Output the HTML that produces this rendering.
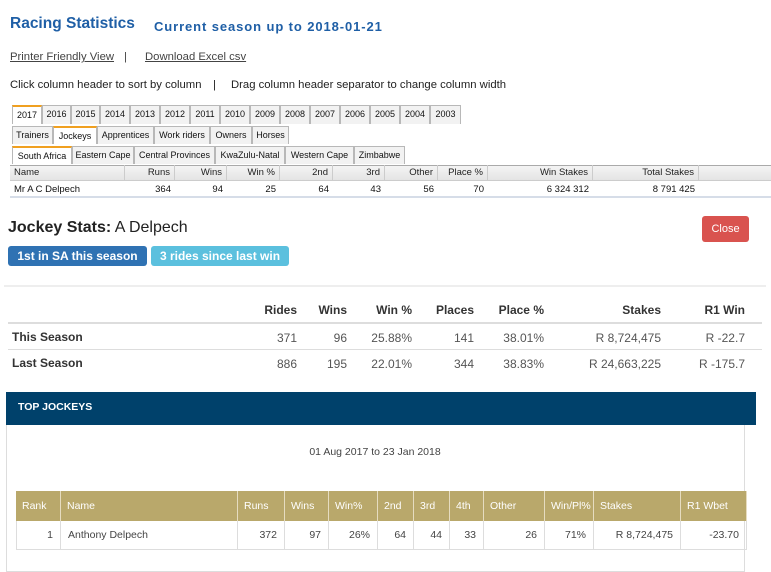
<!DOCTYPE html>
<html><head><meta charset="utf-8">
<style>
*{margin:0;padding:0;box-sizing:border-box}
body{width:771px;height:565px;overflow:hidden;background:#fff;font-family:"Liberation Sans",sans-serif;position:relative;color:#222}
.a{position:absolute;white-space:nowrap}
.tab{position:absolute;border:1px solid #b8b8b8;background:#f2f2f2;font-size:9px;text-align:center;color:#111;border-bottom:none;overflow:hidden;white-space:nowrap}
.tab.on{background:#fff;border-top:2px solid #f0a020}
.c{position:absolute;white-space:nowrap;overflow:hidden}
</style></head><body>
<div class="a" style="left:10px;top:15px;font-size:15.5px;font-weight:bold;color:#1f5fa6">Racing Statistics</div>
<div class="a" style="left:154px;top:19px;font-size:13px;font-weight:bold;color:#1f5fa6;letter-spacing:0.9px">Current season up to 2018-01-21</div>
<div class="a" style="left:10px;top:51px;font-size:11.3px;color:#444;text-decoration:underline">Printer Friendly View</div>
<div class="a" style="left:124px;top:51px;font-size:11.3px;color:#444">|</div>
<div class="a" style="left:145px;top:51px;font-size:11.3px;color:#444;text-decoration:underline">Download Excel csv</div>
<div class="a" style="left:10px;top:79px;font-size:11.3px;color:#222">Click column header to sort by column</div>
<div class="a" style="left:213px;top:79px;font-size:11.3px;color:#222">|</div>
<div class="a" style="left:231px;top:79px;font-size:11.3px;color:#222">Drag column header separator to change column width</div>

<div id="tabs"></div>
<div class="a" style="left:10px;top:165px;width:761px;height:16px;background:linear-gradient(#f4f4f4,#e4e4e4);border-top:1px solid #aaa;border-bottom:1px solid #ccc"></div>
<div class="a" style="left:10px;top:181px;width:761px;height:17px;border-bottom:2px solid #d6dde8"></div>
<div id="grid"></div>

<div class="a" style="left:8px;top:219px;font-size:16px;color:#222"><b>Jockey Stats:</b> A Delpech</div>
<div class="a" style="left:702px;top:216px;width:47px;height:26px;background:#d9534f;border-radius:3px;color:#fff;font-size:11px;text-align:center;line-height:26px">Close</div>
<div class="a" style="left:8px;top:246px;width:139px;height:20px;background:#2f72b3;border-radius:3px;color:#fff;font-size:12px;font-weight:bold;text-align:center;line-height:20px">1st in SA this season</div>
<div class="a" style="left:151px;top:246px;width:138px;height:20px;background:#5bc0de;border-radius:3px;color:#fff;font-size:12px;font-weight:bold;text-align:center;line-height:20px">3 rides since last win</div>
<div class="a" style="left:4px;top:285px;width:762px;height:2px;background:#eee"></div>
<div class="a" style="left:8px;top:322px;width:754px;height:2px;background:#ddd"></div>
<div class="a" style="left:8px;top:349px;width:754px;height:1px;background:#ddd"></div>
<div id="stats"></div>

<div class="a" style="left:6px;top:392px;width:739px;height:180px;border:1px solid #ddd"></div>
<div class="a" style="left:6px;top:392px;width:750px;height:33px;background:#00416b;color:#fff;font-size:10.5px;font-weight:bold;padding:9px 0 0 12px">TOP JOCKEYS</div>
<div class="a" style="left:0;top:446px;width:750px;text-align:center;font-size:10.5px;color:#444">01 Aug 2017 to 23 Jan 2018</div>
<div class="a" style="left:16px;top:491px;width:731px;height:30px;background:#b9a86b"></div>
<div class="a" style="left:16px;top:521px;width:731px;height:29px;border-bottom:1px solid #ddd;border-left:1px solid #ddd;border-right:1px solid #ddd"></div>
<div id="top"></div>

<script>
const years=["2017","2016","2015","2014","2013","2012","2011","2010","2009","2008","2007","2006","2005","2004","2003"];
const categories=["Trainers","Jockeys","Apprentices","Work riders","Owners","Horses"];
const regions=["South Africa","Eastern Cape","Central Provinces","KwaZulu-Natal","Western Cape","Zimbabwe"];
const gridHeaders=["Name","Runs","Wins","Win %","2nd","3rd","Other","Place %","Win Stakes","Total Stakes"];
const gridValues=["Mr A C Delpech","364","94","25","64","43","56","70","6 324 312","8 791 425"];
const statHeaders=["Rides","Wins","Win %","Places","Place %","Stakes","R1 Win"];
const thisSeason=["371","96","25.88%","141","38.01%","R 8,724,475","R -22.7"];
const lastSeason=["886","195","22.01%","344","38.83%","R 24,663,225","R -175.7"];
const topHeaders=["Rank","Name","Runs","Wins","Win%","2nd","3rd","4th","Other","Win/Pl%","Stakes","R1 Wbet"];
const topRow=["1","Anthony Delpech","372","97","26%","64","44","33","26","71%","R 8,724,475","-23.70"];

function tabRow(list,edges,top,h,name,onIdx){
  const host=document.getElementById('tabs');
  list.forEach((t,i)=>{
    const d=document.createElement('div');
    d.className='tab'+(i===onIdx?' on':'');
    
    
    d.style.left=edges[i]+'px';d.style.top=top+'px';
    d.style.width=(edges[i+1]-edges[i])+'px';d.style.height=h+'px';
    d.style.lineHeight=(h-2)+'px';
    d.textContent=t;host.appendChild(d);
  });
}
tabRow(years,[12,42,71,100,130,160,190,220,250,280,310,340,370,400,430,461],105,19,'year-tab',0);
tabRow(categories,[12,53,97,154,210,252,289],126,18,'category-tab',1);
tabRow(regions,[12,72,134,215,285,354,405],146,18,'region-tab',0);

const gEdges=[10,125,175,227,280,333,385,438,488,593,699];
function cells(hostId,vals,edges,top,h,opts,name){
  const host=document.getElementById(hostId);
  vals.forEach((v,i)=>{
    const d=document.createElement('div');
    d.className='c';
    
    
    d.style.left=edges[i]+'px';d.style.top=top+'px';
    d.style.width=(edges[i+1]-edges[i])+'px';d.style.height=h+'px';
    d.style.lineHeight=h+'px';
    const left=opts.leftCols.includes(i);
    d.style.textAlign=left?'left':'right';
    d.style.padding=opts.pad;
    d.style.fontSize=opts.fs;d.style.color=opts.color;
    if(opts.bold)d.style.fontWeight='bold';
    if(opts.sep)d.style.borderRight=opts.sep;
    d.textContent=v;host.appendChild(d);
  });
}
cells('grid',gridHeaders,gEdges,165,16,{leftCols:[0],pad:'0 4px',fs:'9.5px',color:'#222',sep:'1px solid #ccc',inter:true},'grid-header');
cells('grid',gridValues,gEdges,181,17,{leftCols:[0],pad:'0 4px',fs:'9.5px',color:'#111'},'grid-cell');

const sEdges=[240,297,347,412,474,544,661,745];
cells('stats',statHeaders,sEdges,302,16,{leftCols:[],pad:'0',fs:'12px',color:'#333',bold:true},'stats-header');
cells('stats',thisSeason,sEdges,330,16,{leftCols:[],pad:'0',fs:'12px',color:'#555'},'this-season');
cells('stats',lastSeason,sEdges,356,16,{leftCols:[],pad:'0',fs:'12px',color:'#555'},'last-season');
[['This Season',338],['Last Season',364]].forEach(([t,y],i)=>{
  const d=document.createElement('div');d.className='a';
  
  
  d.style.left='12px';d.style.top=(y-8)+'px';d.style.fontSize='12px';d.style.fontWeight='bold';d.style.color='#333';
  d.textContent=t;document.getElementById('stats').appendChild(d);
});

const tEdges=[16,61,238,285,329,378,414,450,484,545,594,681,747];
cells('top',topHeaders,tEdges,491,30,{leftCols:[0,1,2,3,4,5,6,7,8,9,10,11],pad:'0 6px',fs:'10.5px',color:'#fff',sep:'1px solid #e6dcc0',inter:true},'top-header');
cells('top',topRow,tEdges,521,29,{leftCols:[1],pad:'0 7px',fs:'10.5px',color:'#444',sep:'1px solid #ddd'},'top-cell');
</script>
</body></html>
